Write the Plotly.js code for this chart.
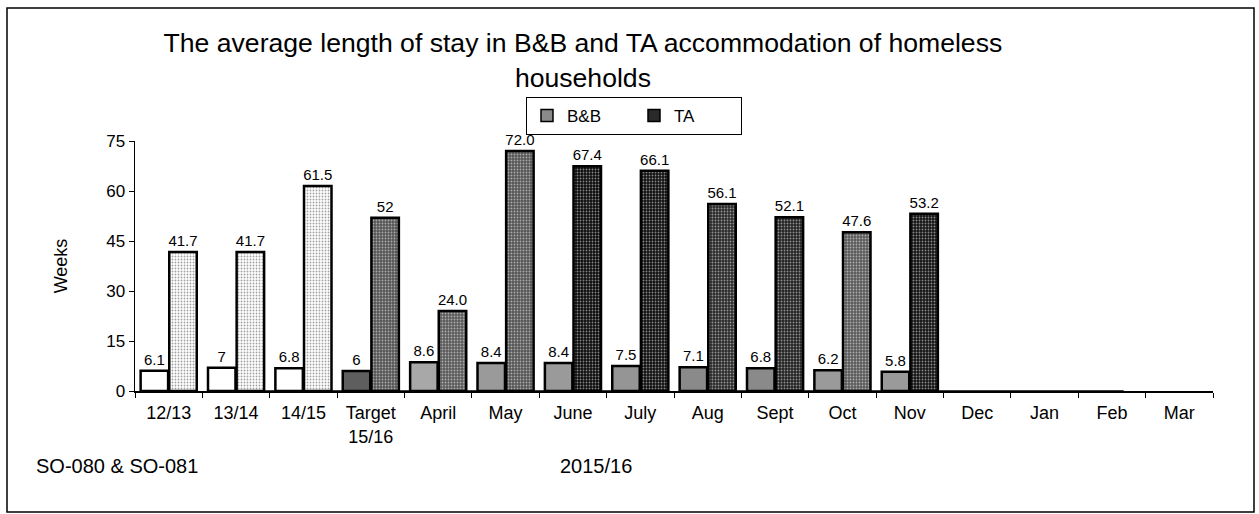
<!DOCTYPE html>
<html>
<head>
<meta charset="utf-8">
<script src="https://cdn.plot.ly/plotly-3.0.1.min.js"></script>
<style>html,body{margin:0;padding:0;background:#fff}#chart{width:1259px;height:514px}</style>
</head>
<body>
<div id="chart"></div>
<script>
const categories = ["12/13","13/14","14/15","Target<br>15/16","April","May","June","July","Aug","Sept","Oct","Nov","Dec","Jan","Feb","Mar"];
const bbValues = [6.1,7,6.8,6,8.6,8.4,8.4,7.5,7.1,6.8,6.2,5.8,null,null,null,null];
const taValues = [41.7,41.7,61.5,52,24.0,72.0,67.4,66.1,56.1,52.1,47.6,53.2,null,null,null,null];
const bbLabels = ["6.1","7","6.8","6","8.6","8.4","8.4","7.5","7.1","6.8","6.2","5.8","","","",""];
const taLabels = ["41.7","41.7","61.5","52","24.0","72.0","67.4","66.1","56.1","52.1","47.6","53.2","","","",""];
const bbColors = ["#ffffff","#ffffff","#ffffff","#5e5e5e","#a8a8a8","#9a9a9a","#9a9a9a","#959595","#8a8a8a","#8a8a8a","#9a9a9a","#9a9a9a","#fff","#fff","#fff","#fff"];
const taColors = ["#ffffff","#ffffff","#ffffff","#555555","#5a5a5a","#555555","#0c0c0c","#101010","#2a2a2a","#222222","#5a5a5a","#141414","#fff","#fff","#fff","#fff"];
const taDots   = ["#e6e6e6","#e6e6e6","#e6e6e6","#8a8a8a","#8a8a8a","#8a8a8a","#333333","#333333","#666666","#555555","#909090","#444444","#fff","#fff","#fff","#fff"];
const legendNames = ["B&B","TA"];
const legendColors = ["#8a8a8a","#2a2a2a"];

const font = "Liberation Sans, Arial, sans-serif";
const W = 1078, H = 250, L = 135, T = 141;
const px = v => (v - L) / W;
const py = v => (T + H - v) / H;

const traces = [
  {type:"bar", name:legendNames[0], x:categories, y:bbValues, text:bbLabels, textposition:"outside", cliponaxis:false,
   constraintext:"none", showlegend:false, textfont:{family:font,size:15,color:"#000"},
   marker:{color:bbColors, line:{color:"#000",width:2.5}}},
  {type:"bar", name:legendNames[1], x:categories, y:taValues, text:taLabels, textposition:"outside", cliponaxis:false,
   constraintext:"none", showlegend:false, textfont:{family:font,size:15,color:"#000"},
   marker:{color:taColors, line:{color:"#000",width:2.5},
           pattern:{shape:".", fillmode:"overlay", fgcolor:taDots, size:3, solidity:0.3}}},
  {type:"bar", name:legendNames[0], x:["x"], y:[-1], xaxis:"x2", yaxis:"y2", showlegend:true,
   marker:{color:legendColors[0], line:{color:"#000",width:1.5}}},
  {type:"bar", name:legendNames[1], x:["x"], y:[-1], xaxis:"x2", yaxis:"y2", showlegend:true,
   marker:{color:legendColors[1], line:{color:"#000",width:1.5}}}
];

const layout = {
  width:1259, height:514,
  margin:{l:L, r:1259-L-W, t:T, b:514-T-H},
  paper_bgcolor:"#fff", plot_bgcolor:"#fff",
  font:{family:font, size:17, color:"#000"},
  title:{text:"The average length of stay in B&B and TA accommodation of homeless<br>households",
         font:{family:font,size:26.6,color:"#000"}, x:0.463, xanchor:"center", y:1-52/514, yanchor:"top", yref:"container"},
  barmode:"group", bargap:0.15, bargroupgap:0.04,
  xaxis:{type:"category", showline:true, linecolor:"#000", linewidth:1.5, ticks:"outside", ticklen:5, tickcolor:"#000",
         tickson:"boundaries", tickfont:{family:font,size:18}, ticklabelstandoff:5, showgrid:false, zeroline:false},
  yaxis:{range:[0,75], tickvals:[0,15,30,45,60,75], showline:true, linecolor:"#000", linewidth:1.5,
         ticks:"outside", ticklen:5, tickcolor:"#000", showgrid:false, zeroline:false,
         tickfont:{family:font,size:17},
         title:{text:"Weeks", font:{family:font,size:18}, standoff:34}},
  xaxis2:{overlaying:"x", visible:false, type:"category"},
  yaxis2:{overlaying:"y", visible:false, range:[0,1]},
  legend:{orientation:"h", x:px(634), xanchor:"center", y:py(97), yanchor:"top",
          bordercolor:"#000", borderwidth:1, font:{family:font,size:17}, entrywidth:62, traceorder:"normal",
          itemwidth:30},
  shapes:[{type:"rect", xref:"paper", yref:"paper", x0:px(7), x1:px(1254), y0:py(512), y1:py(8),
           line:{color:"#000",width:1.5}, fillcolor:"rgba(0,0,0,0)", layer:"below"}],
  annotations:[
    {text:"SO-080 & SO-081", xref:"paper", yref:"paper", x:px(34), y:py(466), xanchor:"left", yanchor:"middle", showarrow:false, font:{family:font,size:20}},
    {text:"2015/16", xref:"paper", yref:"paper", x:px(596), y:py(466), xanchor:"center", yanchor:"middle", showarrow:false, font:{family:font,size:20}}
  ]
};

Plotly.newPlot("chart", traces, layout, {displayModeBar:false, staticPlot:true});
</script>
</body>
</html>
